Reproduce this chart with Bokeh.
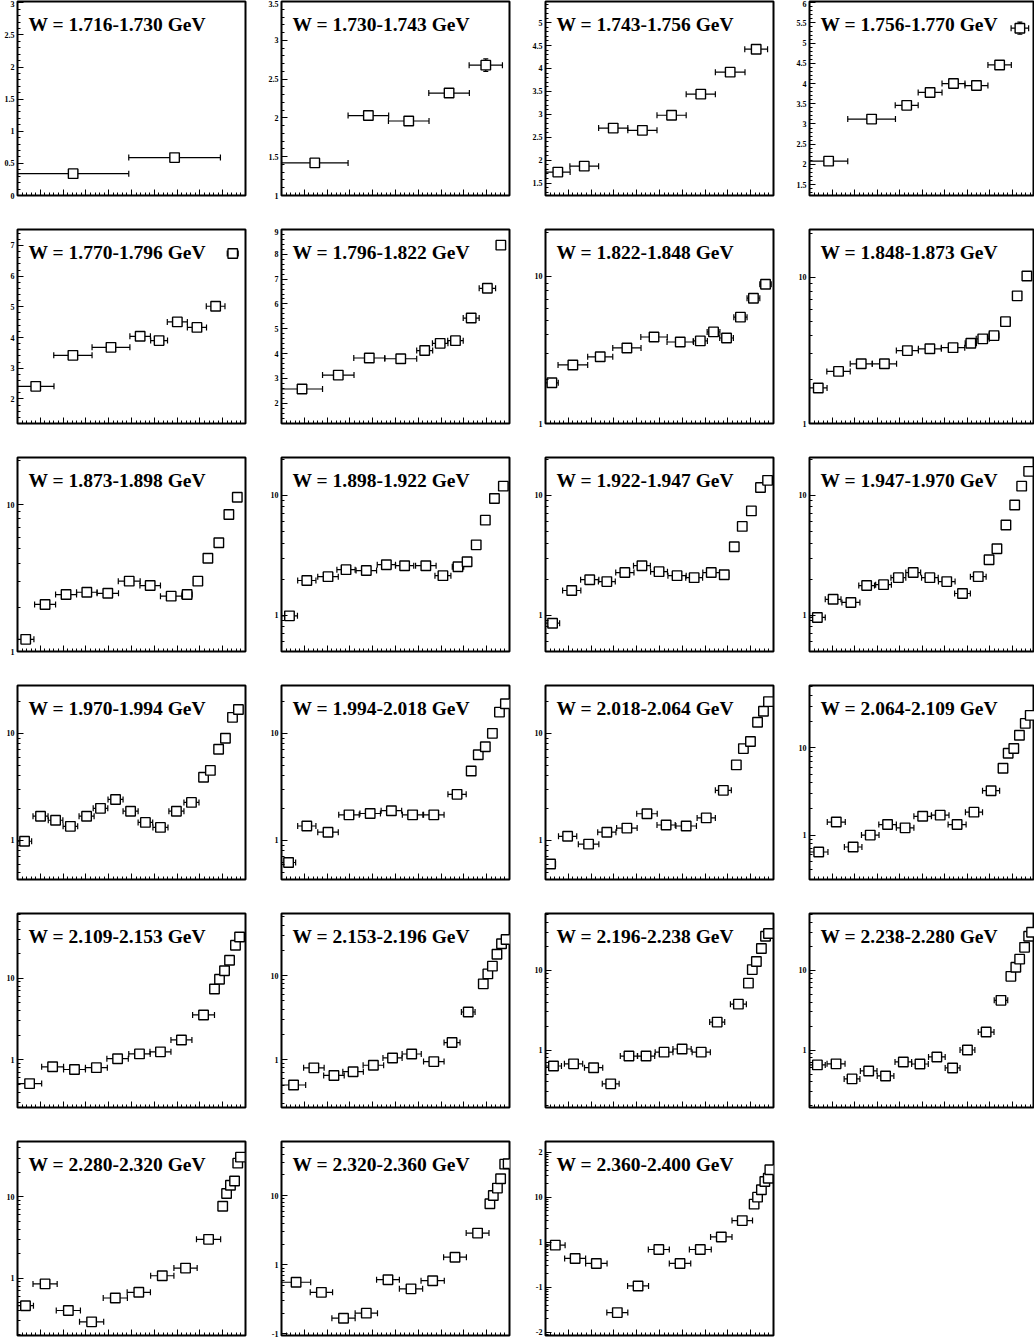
import numpy as np
from bokeh.plotting import figure
from bokeh.models import Range1d, SingleIntervalTicker, FixedTicker, Label, CustomJSTickFormatter
from bokeh.layouts import row, column
from bokeh.embed import file_html
from bokeh.resources import INLINE

TITLES = ["W = 1.716-1.730 GeV", "W = 1.730-1.743 GeV", "W = 1.743-1.756 GeV", "W = 1.756-1.770 GeV",
          "W = 1.770-1.796 GeV", "W = 1.796-1.822 GeV", "W = 1.822-1.848 GeV", "W = 1.848-1.873 GeV",
          "W = 1.873-1.898 GeV", "W = 1.898-1.922 GeV", "W = 1.922-1.947 GeV", "W = 1.947-1.970 GeV",
          "W = 1.970-1.994 GeV", "W = 1.994-2.018 GeV", "W = 2.018-2.064 GeV", "W = 2.064-2.109 GeV",
          "W = 2.109-2.153 GeV", "W = 2.153-2.196 GeV", "W = 2.196-2.238 GeV", "W = 2.238-2.280 GeV",
          "W = 2.280-2.320 GeV", "W = 2.320-2.360 GeV", "W = 2.360-2.400 GeV"]

LOG_SCALE = [False] * 6 + [True] * 17
LIN_STEP = [0.5, 0.5, 0.5, 0.5, 1.0, 1.0]
Y_LOW = [0, 1, 1.23, 1.23, 1.2, 1.18, 1, 1, 1, 0.5, 0.5, 0.5, 0.43, 0.43, 0.43, 0.31, 0.26, 0.27, 0.19, 0.19, 0.197, 0.095, 0.0085]
Y_HIGH = [3.02, 3.5, 5.46, 6.03, 7.52, 9.0, 20.8, 21.2, 20.9, 20.6, 20.6, 20.6, 28, 28, 28, 51.6, 62, 55, 51.6, 51.6, 48, 61, 172]

# panel data: bin centre (x, fraction of axis), bin half width (dx), value (y), y error (e)
x01 = [0.244, 0.689]
dx01 = [0.244, 0.201]
y01 = [0.34, 0.59]
e01 = [0.01, 0.02]

x02 = [0.146, 0.381, 0.558, 0.735, 0.896]
dx02 = [0.146, 0.089, 0.089, 0.089, 0.073]
y02 = [1.42, 2.03, 1.96, 2.32, 2.68]
e02 = [0.02, 0.05, 0.04, 0.05, 0.08]

x03 = [0.054, 0.170, 0.297, 0.425, 0.553, 0.681, 0.810, 0.924]
dx03 = [0.054, 0.063, 0.064, 0.064, 0.064, 0.064, 0.065, 0.050]
y03 = [1.74, 1.87, 2.70, 2.65, 2.98, 3.44, 3.92, 4.42]
e03 = [0.08, 0.04, 0.04, 0.04, 0.04, 0.04, 0.04, 0.07]

x04 = [0.085, 0.276, 0.432, 0.536, 0.640, 0.742, 0.845, 0.935]
dx04 = [0.085, 0.106, 0.051, 0.053, 0.051, 0.051, 0.052, 0.039]
y04 = [2.08, 3.12, 3.46, 3.78, 4.00, 3.95, 4.46, 5.37]
e04 = [0.03, 0.03, 0.04, 0.04, 0.04, 0.05, 0.07, 0.15]

x05 = [0.080, 0.243, 0.410, 0.538, 0.621, 0.701, 0.787, 0.869, 0.944]
dx05 = [0.080, 0.084, 0.083, 0.045, 0.037, 0.044, 0.042, 0.041, 0.024]
y05 = [2.41, 3.42, 3.68, 4.04, 3.90, 4.51, 4.33, 5.02, 6.74]
e05 = [0.04, 0.04, 0.05, 0.05, 0.05, 0.06, 0.06, 0.07, 0.09]

x06 = [0.090, 0.249, 0.385, 0.523, 0.628, 0.696, 0.763, 0.832, 0.903, 0.962]
dx06 = [0.090, 0.069, 0.068, 0.070, 0.035, 0.034, 0.034, 0.035, 0.036, 0.018]
y06 = [2.57, 3.13, 3.82, 3.79, 4.12, 4.41, 4.52, 5.43, 6.63, 8.37]
e06 = [0.05, 0.05, 0.06, 0.06, 0.07, 0.07, 0.07, 0.08, 0.10, 0.14]

x07 = [0.028, 0.120, 0.240, 0.357, 0.476, 0.591, 0.679, 0.737, 0.794, 0.855, 0.912, 0.965]
dx07 = [0.028, 0.065, 0.055, 0.062, 0.058, 0.058, 0.031, 0.028, 0.030, 0.029, 0.028, 0.025]
y07 = [1.89, 2.5, 2.84, 3.26, 3.87, 3.58, 3.64, 4.19, 3.81, 5.28, 7.1, 8.83]

x08 = [0.039, 0.129, 0.230, 0.333, 0.435, 0.535, 0.638, 0.717, 0.770, 0.820, 0.871, 0.923, 0.966]
dx08 = [0.039, 0.052, 0.049, 0.054, 0.049, 0.051, 0.052, 0.025, 0.029, 0.022, 0.020, 0.019, 0.016]
y08 = [1.75, 2.27, 2.56, 2.56, 3.15, 3.24, 3.30, 3.54, 3.79, 3.99, 4.97, 7.46, 10.2]

x09 = [0.036, 0.121, 0.213, 0.304, 0.396, 0.490, 0.582, 0.674, 0.744, 0.791, 0.835, 0.883, 0.927, 0.964]
dx09 = [0.036, 0.046, 0.046, 0.045, 0.047, 0.048, 0.045, 0.047, 0.022, 0.019, 0.017, 0.017, 0.017, 0.014]
y09 = [1.21, 2.09, 2.44, 2.53, 2.49, 3.01, 2.81, 2.38, 2.44, 3.01, 4.31, 5.49, 8.55, 11.2]

x10 = [0.035, 0.111, 0.204, 0.283, 0.372, 0.460, 0.540, 0.633, 0.708, 0.774, 0.814, 0.854, 0.894, 0.934, 0.973]
dx10 = [0.035, 0.04, 0.045, 0.04, 0.045, 0.04, 0.04, 0.045, 0.035, 0.025, 0.015, 0.015, 0.015, 0.015, 0.015]
y10 = [0.99, 1.95, 2.1, 2.4, 2.36, 2.64, 2.59, 2.59, 2.14, 2.54, 2.79, 3.86, 6.2, 9.4, 11.9]

x11 = [0.031, 0.115, 0.194, 0.269, 0.348, 0.423, 0.498, 0.577, 0.652, 0.727, 0.784, 0.828, 0.863, 0.903, 0.943, 0.974]
dx11 = [0.031, 0.04, 0.04, 0.037, 0.04, 0.037, 0.037, 0.04, 0.037, 0.037, 0.02, 0.015, 0.015, 0.015, 0.015, 0.012]
y11 = [0.86, 1.61, 1.98, 1.91, 2.27, 2.59, 2.31, 2.14, 2.06, 2.27, 2.18, 3.72, 5.5, 7.4, 11.6, 13.3]

x12 = [0.035, 0.105, 0.184, 0.254, 0.329, 0.395, 0.461, 0.535, 0.610, 0.680, 0.750, 0.798, 0.833, 0.873, 0.912, 0.943, 0.974]
dx12 = [0.035, 0.035, 0.04, 0.035, 0.035, 0.033, 0.033, 0.037, 0.037, 0.035, 0.035, 0.015, 0.012, 0.012, 0.012, 0.01, 0.01]
y12 = [0.96, 1.36, 1.28, 1.77, 1.8, 2.06, 2.27, 2.06, 1.91, 1.52, 2.1, 2.9, 3.58, 5.65, 8.3, 11.9, 15.8]

x13 = [0.031, 0.101, 0.167, 0.232, 0.303, 0.364, 0.430, 0.496, 0.561, 0.627, 0.697, 0.763, 0.816, 0.846, 0.882, 0.912, 0.943, 0.969]
dx13 = [0.031, 0.033, 0.032, 0.032, 0.033, 0.032, 0.033, 0.033, 0.032, 0.033, 0.033, 0.033, 0.012, 0.01, 0.01, 0.01, 0.01, 0.01]
y13 = [0.98, 1.68, 1.54, 1.35, 1.68, 1.99, 2.41, 1.87, 1.47, 1.32, 1.87, 2.26, 3.88, 4.5, 7.1, 9.0, 14.1, 16.7]

x14 = [0.031, 0.111, 0.204, 0.296, 0.389, 0.482, 0.575, 0.668, 0.770, 0.832, 0.863, 0.894, 0.925, 0.956, 0.982]
dx14 = [0.031, 0.04, 0.045, 0.045, 0.045, 0.045, 0.045, 0.045, 0.04, 0.012, 0.012, 0.012, 0.012, 0.012, 0.01]
y14 = [0.62, 1.36, 1.19, 1.73, 1.78, 1.89, 1.73, 1.73, 2.69, 4.44, 6.3, 7.5, 10.0, 15.8, 18.9]

x15 = [0.022, 0.097, 0.189, 0.269, 0.357, 0.445, 0.529, 0.617, 0.705, 0.780, 0.837, 0.868, 0.899, 0.930, 0.956, 0.978]
dx15 = [0.022, 0.04, 0.045, 0.04, 0.045, 0.045, 0.04, 0.045, 0.04, 0.035, 0.012, 0.012, 0.012, 0.012, 0.01, 0.01]
y15 = [0.6, 1.09, 0.92, 1.19, 1.3, 1.77, 1.39, 1.36, 1.62, 2.93, 5.07, 7.2, 8.4, 12.7, 16.1, 19.8]

x16 = [0.041, 0.119, 0.194, 0.270, 0.347, 0.425, 0.503, 0.581, 0.656, 0.731, 0.807, 0.860, 0.883, 0.908, 0.933, 0.959, 0.981]
dx16 = [0.041, 0.040, 0.039, 0.039, 0.039, 0.039, 0.039, 0.039, 0.040, 0.038, 0.038, 0.012, 0.012, 0.012, 0.012, 0.012, 0.01]
y16 = [0.64, 1.41, 0.73, 1.0, 1.32, 1.21, 1.64, 1.69, 1.32, 1.83, 3.22, 5.83, 8.65, 9.8, 13.9, 19.0, 23.5]

x17 = [0.053, 0.154, 0.250, 0.346, 0.439, 0.535, 0.627, 0.719, 0.816, 0.864, 0.886, 0.908, 0.930, 0.956, 0.974]
dx17 = [0.053, 0.048, 0.048, 0.048, 0.047, 0.047, 0.046, 0.046, 0.048, 0.01, 0.01, 0.01, 0.01, 0.01, 0.01]
y17 = [0.51, 0.82, 0.76, 0.80, 1.03, 1.18, 1.25, 1.75, 3.54, 7.36, 9.7, 12.3, 16.6, 25.3, 32.0]

x18 = [0.053, 0.142, 0.230, 0.314, 0.403, 0.487, 0.571, 0.668, 0.748, 0.819, 0.885, 0.905, 0.925, 0.945, 0.965, 0.985]
dx18 = [0.053, 0.045, 0.045, 0.045, 0.045, 0.042, 0.042, 0.045, 0.035, 0.03, 0.01, 0.01, 0.01, 0.01, 0.01, 0.01]
y18 = [0.5, 0.8, 0.65, 0.72, 0.86, 1.05, 1.17, 0.95, 1.6, 3.7, 8.0, 10.5, 13.0, 18.0, 24.0, 27.0]

x19 = [0.035, 0.123, 0.211, 0.286, 0.366, 0.441, 0.520, 0.599, 0.683, 0.753, 0.846, 0.890, 0.907, 0.925, 0.947, 0.965, 0.978]
dx19 = [0.035, 0.04, 0.04, 0.037, 0.038, 0.038, 0.039, 0.04, 0.04, 0.033, 0.035, 0.01, 0.01, 0.01, 0.01, 0.01, 0.01]
y19 = [0.63, 0.67, 0.60, 0.376, 0.84, 0.84, 0.94, 1.03, 0.94, 2.24, 3.76, 6.9, 10.2, 12.9, 18.8, 26.7, 29.0]

x20 = [0.035, 0.118, 0.189, 0.263, 0.338, 0.417, 0.491, 0.566, 0.636, 0.702, 0.785, 0.851, 0.895, 0.917, 0.934, 0.956, 0.974, 0.987]
dx20 = [0.035, 0.04, 0.035, 0.037, 0.037, 0.037, 0.037, 0.037, 0.033, 0.033, 0.035, 0.03, 0.01, 0.01, 0.01, 0.01, 0.01, 0.01]
y20 = [0.65, 0.67, 0.434, 0.546, 0.473, 0.708, 0.668, 0.818, 0.596, 1.0, 1.68, 4.2, 8.4, 10.9, 13.8, 19.4, 26.7, 30.0]

x21 = [0.035, 0.121, 0.223, 0.325, 0.429, 0.532, 0.635, 0.737, 0.838, 0.900, 0.917, 0.934, 0.952, 0.966, 0.978]
dx21 = [0.035, 0.053, 0.053, 0.053, 0.053, 0.051, 0.051, 0.051, 0.053, 0.01, 0.01, 0.01, 0.01, 0.01, 0.01]
y21 = [0.458, 0.85, 0.40, 0.29, 0.57, 0.67, 1.07, 1.33, 3.0, 7.68, 11.0, 13.9, 15.7, 26.0, 30.8]

x22 = [0.064, 0.175, 0.272, 0.372, 0.467, 0.568, 0.663, 0.761, 0.860, 0.914, 0.929, 0.947, 0.961, 0.979, 0.994]
dx22 = [0.064, 0.049, 0.051, 0.049, 0.050, 0.051, 0.051, 0.050, 0.050, 0.01, 0.01, 0.01, 0.01, 0.01, 0.01]
y22 = [0.56, 0.40, 0.169, 0.20, 0.61, 0.45, 0.59, 1.29, 2.88, 7.66, 10.1, 12.9, 17.6, 28.7, 29.0]

x23 = [0.043, 0.130, 0.223, 0.315, 0.406, 0.497, 0.590, 0.679, 0.771, 0.863, 0.915, 0.930, 0.947, 0.962, 0.977, 0.984]
dx23 = [0.043, 0.046, 0.047, 0.046, 0.046, 0.046, 0.047, 0.048, 0.047, 0.045, 0.01, 0.01, 0.01, 0.01, 0.01, 0.01]
y23 = [0.86, 0.436, 0.338, 0.0274, 0.107, 0.69, 0.338, 0.69, 1.31, 3.02, 7.0, 10.0, 14.6, 22.3, 26.3, 40.5]
e23 = [0.05, 0.03, 0.02, 0.006, 0.01, 0.04, 0.02, 0.04, 0.06, 0.1, 0.2, 0.3, 0.4, 0.5, 0.6, 0.8]

XS = [x01, x02, x03, x04, x05, x06, x07, x08, x09, x10, x11, x12, x13, x14, x15, x16, x17, x18, x19, x20, x21, x22, x23]
DXS = [dx01, dx02, dx03, dx04, dx05, dx06, dx07, dx08, dx09, dx10, dx11, dx12, dx13, dx14, dx15, dx16, dx17, dx18, dx19, dx20, dx21, dx22, dx23]
YS = [y01, y02, y03, y04, y05, y06, y07, y08, y09, y10, y11, y12, y13, y14, y15, y16, y17, y18, y19, y20, y21, y22, y23]
ES = [e01, e02, e03, e04, e05, e06] + [None] * 16 + [e23]

FRAME_H = 194
FONT = "Liberation Serif"


def make_panel(i, col):
    log = LOG_SCALE[i]
    fw = 225 if col == 3 else 228
    br = 0 if col == 3 else 19
    lo, hi = Y_LOW[i], Y_HIGH[i]
    p = figure(frame_width=fw, frame_height=FRAME_H,
               min_border_left=17, min_border_right=br, min_border_top=1, min_border_bottom=33,
               x_range=Range1d(0, 1), y_range=Range1d(lo, hi),
               y_axis_type="log" if log else "linear",
               output_backend="svg", toolbar_location=None)
    p.background_fill_color = "white"
    p.border_fill_color = "white"
    p.outline_line_color = "black"
    p.outline_line_width = 2
    p.xgrid.visible = False
    p.ygrid.visible = False

    p.xaxis.ticker = SingleIntervalTicker(interval=0.1, num_minor_ticks=5)
    p.xaxis.major_label_text_color = None
    p.xaxis.major_label_text_font_size = "1px"
    if log:
        p.yaxis.ticker = FixedTicker(ticks=[0.01, 0.1, 1, 10, 100],
                                     minor_ticks=[k * 10.0 ** e for e in range(-3, 3) for k in range(2, 10)])
        p.yaxis.formatter = CustomJSTickFormatter(code="""
            const e = Math.round(Math.log10(tick));
            if (e == 0) return '1';
            if (e == 1) return '10';
            return String(e);""")
    else:
        p.yaxis.ticker = SingleIntervalTicker(interval=LIN_STEP[i], num_minor_ticks=5)
        p.yaxis.formatter = CustomJSTickFormatter(code="return String(Math.round(tick*100)/100);")
    for ax in (p.xaxis[0], p.yaxis[0]):
        ax.axis_line_color = None
        ax.major_tick_in = 6
        ax.major_tick_out = 0
        ax.minor_tick_in = 3
        ax.minor_tick_out = 0
        ax.major_tick_line_color = "black"
        ax.minor_tick_line_color = "black"
        ax.major_tick_line_width = 1
        ax.minor_tick_line_width = 1
    p.yaxis.major_label_text_font = FONT
    p.yaxis.major_label_text_font_style = "bold"
    p.yaxis.major_label_text_font_size = "8px"
    p.yaxis.major_label_text_color = "black"
    p.yaxis.major_label_standoff = 3

    x = np.array(XS[i], dtype=float)
    dx = np.array(DXS[i], dtype=float)
    y = np.array(YS[i], dtype=float)
    p.segment(x0=x - dx, y0=y, x1=x + dx, y1=y, line_color="black", line_width=1.2)
    p.scatter(x=np.r_[x - dx, x + dx], y=np.r_[y, y], marker="dash", angle=np.pi / 2,
              size=6, line_color="black", line_width=1.2)
    if ES[i] is not None:
        e = np.array(ES[i], dtype=float)
        p.segment(x0=x, y0=y - e, x1=x, y1=y + e, line_color="black", line_width=1.2)
        p.scatter(x=np.r_[x, x], y=np.r_[y - e, y + e], marker="dash", size=5,
                  line_color="black", line_width=1.2)
    p.scatter(x=x, y=y, marker="square", size=9.5, fill_color="white",
              line_color="black", line_width=1.4)

    frac = 1 - 23.0 / FRAME_H
    if log:
        ly = 10 ** (np.log10(lo) + (np.log10(hi) - np.log10(lo)) * frac)
    else:
        ly = lo + (hi - lo) * frac
    p.add_layout(Label(x=11.0 / fw, y=ly, text=TITLES[i], text_font=FONT,
                       text_font_style="bold", text_font_size="19.5px",
                       text_color="black", text_baseline="alphabetic"))
    return p


rows = []
for r in range(6):
    figs = []
    for c in range(4):
        i = r * 4 + c
        if i < len(TITLES):
            figs.append(make_panel(i, c))
    rows.append(row(*figs))
layout = column(*rows)

open("out.html", "w").write(file_html(layout, INLINE, title="W bins"))
